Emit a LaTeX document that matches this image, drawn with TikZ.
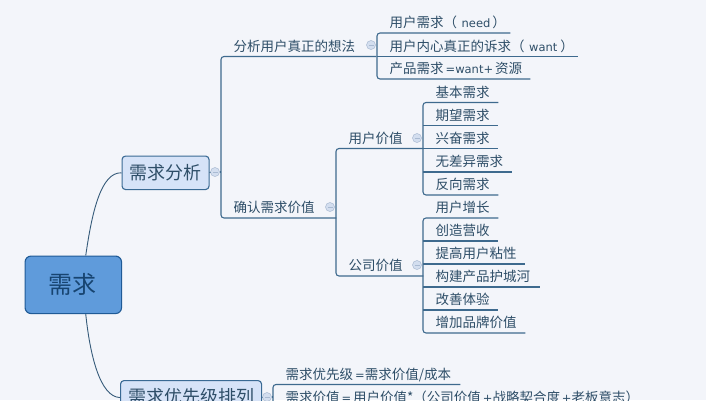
\documentclass[tikz,border=0pt]{standalone}
\usepackage{fontspec}
\setmainfont{Noto Sans CJK SC}
\newfontfamily\latf{DejaVu Sans}
\newcommand{\lat}[1]{{\latf\fontsize{11.5}{13}\selectfont #1}}
\definecolor{bgc}{HTML}{F3F5FA}
\definecolor{linec}{HTML}{3E6A8E}
\definecolor{txtc}{HTML}{2E4E68}
\definecolor{rootf}{HTML}{5F9BDB}
\definecolor{rootd}{HTML}{1F5A96}
\definecolor{boxf}{HTML}{D6E3F8}
\definecolor{boxd}{HTML}{3A6A94}
\definecolor{collf}{HTML}{D3DEEF}
\definecolor{colld}{HTML}{A9BAD2}
\tikzset{
  leaf/.style={anchor=south west,inner xsep=0pt,inner ysep=0pt,text width=#1,align=left,
    text height=12pt,text depth=5.2pt,text=txtc,font=\fontsize{13.5}{15}\selectfont,
    execute at begin node=\hspace*{12.5pt}},
  conn/.style={draw=linec,line width=1.1pt,rounded corners=3pt},
  under/.style={draw=linec,line width=1.1pt},
  curve/.style={draw=linec!85!black,line width=0.9pt},
  topbox/.style={draw=boxd,fill=boxf,line width=1.1pt,rounded corners=3.5pt,text=txtc,
    font=\fontsize{18}{20}\selectfont,inner sep=0pt,anchor=north west},
  rootbox/.style={draw=rootd,fill=rootf,line width=1.1pt,rounded corners=6pt,text=rootd!75!black,
    font=\fontsize{24}{26}\selectfont,inner sep=0pt,anchor=north west,minimum width=96.5pt,minimum height=57.5pt},
  coll/.style={circle,draw=colld,fill=collf,line width=0.5pt,inner sep=0pt,minimum size=9pt,
    path picture={\draw[colld,line width=0.8pt] ([xshift=2pt]path picture bounding box.west)--([xshift=-2pt]path picture bounding box.east);}},
}
\begin{document}
\begin{tikzpicture}[x=1pt,y=-1pt]
\useasboundingbox (0,0) rectangle (706,400);
\fill[bgc] (0,0) rectangle (706,400);
\clip (0,0) rectangle (706,400);
% main boxes
\node[rootbox] (root) at (24.5,255.5) {\hspace*{-1.5pt}需求};
\node[topbox,minimum width=87pt,minimum height=33.5pt] (ana) at (121.5,155.5) {\hspace*{-1pt}需求分析};
\node[topbox,minimum width=141pt,minimum height=34pt] (pri) at (120,380) {\raisebox{2.5pt}{需求优先级排列}};
\draw[curve] (root.67.5) .. controls (92,212) and (101,172) .. (ana.west);
\draw[curve] (root.-67.5) .. controls (90,355) and (100,397) .. (pri.west);
% second level
\node[leaf=155pt] (want0) at (221,56.5) {分析用户真正的想法};
\node[leaf=115pt] (val) at (221,218) {确认需求价值};
\node[leaf=87pt] (uval) at (336,148.5) {用户价值};
\node[leaf=87pt] (cval) at (336,276) {公司价值};
% third level, first branch
\node[leaf=133pt] (n1) at (377,33) {用户需求（\lat{ need}\hspace{2pt}）};
\node[leaf=201pt] (n2) at (377,56.5) {用户内心真正的诉求（\lat{ want}\hspace{3pt}）};
\node[leaf=153pt] (n3) at (377,79) {产品需求\lat{\,=want+\,}资源};
% user value
\node[leaf=75pt] (u1) at (423,102.5) {基本需求};
\node[leaf=75pt] (u2) at (423,125.5) {期望需求};
\node[leaf=75pt] (u3) at (423,148.5) {兴奋需求};
\node[leaf=89pt] (u4) at (423,172) {无差异需求};
\node[leaf=75pt] (u5) at (423,195) {反向需求};
% company value
\node[leaf=75pt] (c1) at (423,218) {用户增长};
\node[leaf=75pt] (c2) at (423,241) {创造营收};
\node[leaf=102pt] (c3) at (423,264) {提高用户粘性};
\node[leaf=117pt] (c4) at (423,287) {构建产品护城河};
\node[leaf=75pt] (c5) at (423,310) {改善体验};
\node[leaf=102pt] (c6) at (423,333) {增加品牌价值};
% priority
\node[leaf=187pt] (p1) at (273,384.5) {需求优先级\lat{\,=}需求价值/成本};
\node[leaf=420pt] (p2) at (273,407.5) {需求价值\lat{\,=\,}用户价值*（公司价值\lat{\,+}战略契合度\lat{\,+}老板意志）};
% collapse marks
\node[coll] (k0) at (215,172) {};
\node[coll] (k1) at (371,45) {};
\node[coll] (k2) at (330,207) {};
\node[coll] (k3) at (417,138) {};
\node[coll] (k4) at (417,265) {};
\node[coll] (k5) at (267,397) {};
% connectors
\draw[under] (ana.east) -- (k0.west);
\draw[under] (k0.east) -- (k0.east -| val.south west);
\draw[under] (pri.east) -- (k5.west);
\draw[under] (k5.east) -- (k5.east -| p1.south west);
\draw[conn] (want0.south east) -- (want0.south west) -- (val.south west) -- (val.south east);
\draw[conn] (uval.south east) -- (uval.south west) -- (cval.south west) -- (cval.south east);
\draw[conn] (n1.south east) -- (n1.south west) -- (n3.south west) -- (n3.south east);
\draw[under] (n2.south west) -- (n2.south east);
\draw[conn] (u1.south east) -- (u1.south west) -- (u5.south west) -- (u5.south east);
\foreach \k in {u2,u3,u4} \draw[under] (\k.south west) -- (\k.south east);
\draw[conn] (c1.south east) -- (c1.south west) -- (c6.south west) -- (c6.south east);
\foreach \k in {c2,c3,c4,c5} \draw[under] (\k.south west) -- (\k.south east);
\draw[conn] (p1.south east) -- (p1.south west) -- (p2.south west) -- (p2.south east);
\end{tikzpicture}
\end{document}
